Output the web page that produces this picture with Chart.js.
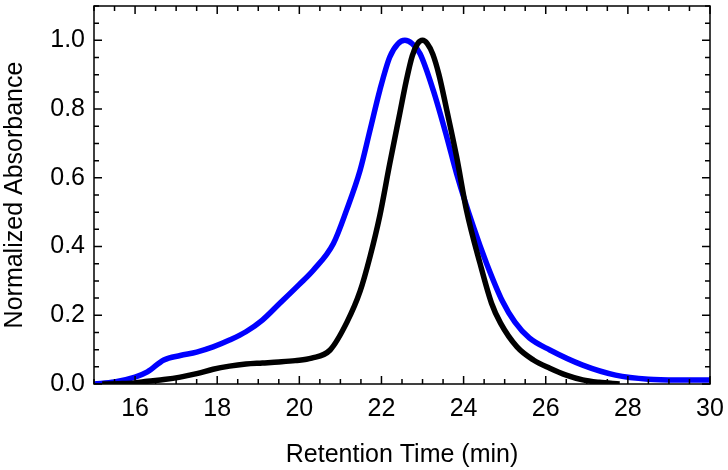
<!DOCTYPE html>
<html>
<head>
<meta charset="utf-8">
<script src="https://cdn.jsdelivr.net/npm/chart.js@4.4.1/dist/chart.umd.min.js"></script>
<style>
  html, body { margin: 0; padding: 0; background: #fff; }
  #wrap { width: 728px; height: 470px; }
</style>
</head>
<body>
<div id="wrap"><canvas id="myChart"></canvas></div>
<script>
// retention time (min) / normalized absorbance
const timeBlue = [15.0, 15.5, 16.0, 16.3, 16.7, 17.1, 17.5, 17.9, 18.3, 18.7, 19.1, 19.5, 20.0, 20.34, 20.83, 21.15, 21.48, 21.72, 21.96, 22.2, 22.4, 22.57, 22.75, 22.94, 23.26, 23.59, 23.83, 24.24, 24.56, 24.95, 25.25, 25.6, 26.1, 26.9, 27.7, 28.5, 29.2, 30.0]
const absBlue  = [0.0, 0.006, 0.02, 0.035, 0.07, 0.083, 0.093, 0.108, 0.128, 0.152, 0.186, 0.232, 0.29, 0.331, 0.409, 0.506, 0.622, 0.738, 0.855, 0.951, 0.99, 1.0, 0.99, 0.961, 0.855, 0.719, 0.612, 0.457, 0.351, 0.24, 0.18, 0.134, 0.099, 0.055, 0.026, 0.014, 0.012, 0.012]

const timeBlack = [15.2, 15.6, 16.0, 16.3, 16.7, 17.1, 17.5, 17.9, 18.3, 18.7, 19.1, 19.5, 19.9, 20.3, 20.75, 21.16, 21.48, 21.72, 21.96, 22.2, 22.45, 22.6, 22.75, 22.88, 23.0, 23.12, 23.25, 23.4, 23.59, 23.83, 24.07, 24.4, 24.68, 24.9, 25.3, 25.7, 26.1, 26.5, 26.9, 27.3, 27.8]
const absBlack  = [0.0, 0.001, 0.003, 0.008, 0.013, 0.02, 0.03, 0.043, 0.052, 0.058, 0.061, 0.064, 0.068, 0.075, 0.099, 0.18, 0.27, 0.37, 0.49, 0.64, 0.79, 0.88, 0.955, 0.99, 1.0, 0.99, 0.96, 0.9, 0.797, 0.661, 0.506, 0.351, 0.235, 0.177, 0.108, 0.07, 0.046, 0.026, 0.012, 0.005, 0.0]

const xTicks = [16, 18, 20, 22, 24, 26, 28, 30]
const yTicks = [0.0, 0.2, 0.4, 0.6, 0.8, 1.0]

const toPoints = (xs, ys) => xs.map((t, i) => ({x: t, y: ys[i]}))

// box round the plot with inward ticks on all four sides
const frameTicks = {
  id: 'frameTicks',
  afterDatasetsDraw(chart) {
    const {ctx, chartArea: a, scales: {x, y}} = chart
    ctx.save()
    ctx.strokeStyle = '#000'
    ctx.lineWidth = 1.5
    ctx.beginPath()
    for (let i = 0; i <= 30; i++) {
      const v = 15 + i * 0.5
      const px = x.getPixelForValue(v)
      const len = (v % 2 === 0) ? 8 : 5
      ctx.moveTo(px, a.bottom); ctx.lineTo(px, a.bottom - len)
      ctx.moveTo(px, a.top); ctx.lineTo(px, a.top + len)
    }
    for (let i = 0; i <= 22; i++) {
      const py = y.getPixelForValue(i * 0.05)
      const len = (i % 4 === 0) ? 8 : 5
      ctx.moveTo(a.left, py); ctx.lineTo(a.left + len, py)
      ctx.moveTo(a.right, py); ctx.lineTo(a.right - len, py)
    }
    ctx.stroke()
    ctx.strokeRect(a.left, a.top, a.right - a.left, a.bottom - a.top)
    ctx.restore()
  }
}

const ctx = document.getElementById('myChart').getContext('2d')
const myChart = new Chart(ctx, {
  type: 'scatter',
  data: {
    datasets: [
      {
        data: toPoints(timeBlack, absBlack),
        showLine: true,
        borderColor: '#000000',
        borderWidth: 5.5,
        pointRadius: 0,
        cubicInterpolationMode: 'monotone'
      },
      {
        data: toPoints(timeBlue, absBlue),
        showLine: true,
        borderColor: '#0000ff',
        borderWidth: 5.5,
        pointRadius: 0,
        cubicInterpolationMode: 'monotone'
      }
    ]
  },
  options: {
    responsive: true,
    maintainAspectRatio: false,
    animation: false,
    layout: { padding: { top: 6, right: 18, left: 0, bottom: 0 } },
    plugins: { legend: { display: false }, tooltip: { enabled: false } },
    scales: {
      x: {
        type: 'linear',
        min: 15,
        max: 30,
        grid: { display: false, drawTicks: false },
        border: { display: false },
        afterBuildTicks: s => { s.ticks = xTicks.map(v => ({value: v})) },
        afterFit: s => { s.height = 86; s.paddingLeft = 0; s.paddingRight = 0 },
        ticks: {
          padding: 10,
          color: '#000',
          font: { family: 'Liberation Sans', size: 25 }
        },
        title: {
          display: true,
          text: 'Retention Time (min)',
          color: '#000',
          padding: { top: 0, bottom: 0 },
          font: { family: 'Liberation Sans', size: 25 }
        }
      },
      y: {
        min: 0,
        max: 1.1,
        grid: { display: false, drawTicks: false },
        border: { display: false },
        afterBuildTicks: s => { s.ticks = yTicks.map(v => ({value: v})) },
        afterFit: s => { s.width = 94; s.paddingTop = 0; s.paddingBottom = 0 },
        ticks: {
          padding: 9,
          color: '#000',
          font: { family: 'Liberation Sans', size: 25 },
          callback: v => v.toFixed(1)
        },
        title: {
          display: true,
          text: 'Normalized Absorbance',
          color: '#000',
          padding: { top: 0, bottom: 0 },
          font: { family: 'Liberation Sans', size: 25 }
        }
      }
    }
  },
  plugins: [frameTicks]
})
</script>
</body>
</html>
